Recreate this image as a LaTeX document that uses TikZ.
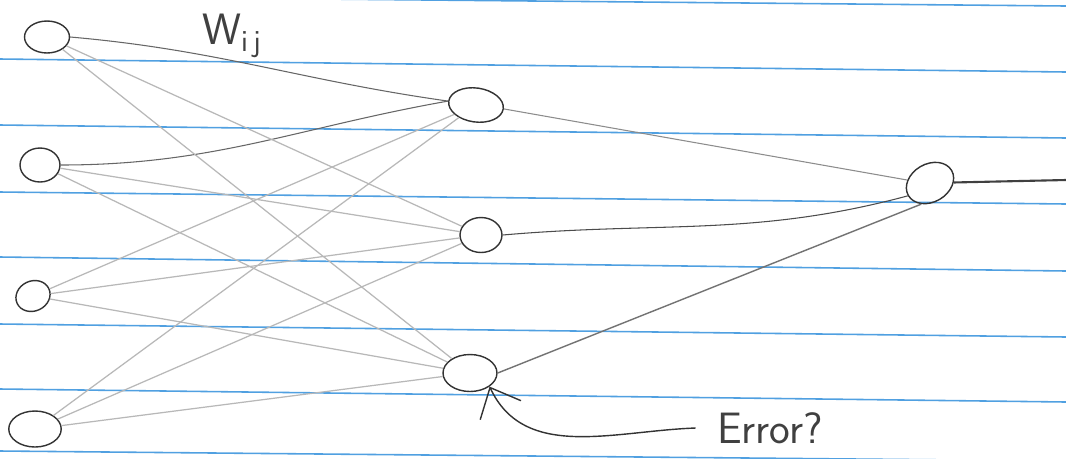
\documentclass[tikz,border=0pt]{standalone}
\usetikzlibrary{arrows.meta,shapes.geometric}

\definecolor{ruleblue}{RGB}{80,160,225}

\begin{document}
\begin{tikzpicture}[
  x=0.02cm, y=-0.02cm,
  font=\sffamily,
  neuron/.style={draw=black!80, thick, ellipse, inner sep=0pt, minimum width=0.85cm, minimum height=0.66cm},
  weight/.style={draw=black!28, line width=0.7pt},
  strong/.style={draw=black!60, semithick},
  paperline/.style={draw=ruleblue, line width=0.9pt},
  errarrow/.style={-{Straight Barb[length=5mm, width=9mm]}, thick, draw=black!80},
  note/.style={font=\sffamily\fontsize{25}{27}\selectfont, text=black!75}
]
\useasboundingbox (0,0) rectangle (1066,458);
\fill[white] (0,0) rectangle (1066,458);

% ruled paper
\foreach \ya/\yb in {-4/6, 59/72, 125/138, 192/204, 257/271, 324/337, 389/402, 451/461}
  \draw[paperline] (0,\ya) -- (1066,\yb);

% input layer
\node[neuron, minimum width=0.9cm, minimum height=0.64cm] (i1) at (47,37) {};
\node[neuron, minimum width=0.8cm, minimum height=0.68cm] (i2) at (40,165) {};
\node[neuron, minimum width=0.7cm, minimum height=0.6cm, rotate=25] (i3) at (33,296) {};
\node[neuron, minimum width=1.05cm, minimum height=0.72cm] (i4) at (35,429) {};

% hidden layer
\node[neuron, minimum width=1.1cm, minimum height=0.68cm, rotate=-8] (h1) at (476,105) {};
\node[neuron, minimum width=0.84cm, minimum height=0.7cm] (h2) at (481,235) {};
\node[neuron, minimum width=1.08cm, minimum height=0.74cm] (h3) at (470,373) {};

% output
\node[neuron, minimum width=1.0cm, minimum height=0.76cm, rotate=30] (out) at (930,183) {};
\coordinate (outend) at (1066,180);

% weights
\draw[strong] (i1.east) to[out=-5, in=172] (h1.west);
\draw[strong] (i2.east) to[out=0, in=190] (h1.west);
\foreach \a/\b in {i1/h2, i1/h3, i2/h2, i2/h3, i3/h1, i3/h2, i3/h3, i4/h1, i4/h2, i4/h3}
  \draw[weight] (\a) -- (\b);

\draw[draw=black!45, semithick] (h1.east) -- (out.north west);
\draw[draw=black!70, semithick] (h2.east) to[out=5, in=195] (out.west);
\draw[draw=black!55, thick] (h3.east) -- (out.south west);
\draw[draw=black!75, very thick] (out) -- (outend);

% labels
\node[note] (wij) at (232,36) {W\textsubscript{i\,j}};
\node[note, inner sep=12pt] (err) at (770,428) {Error?};
\draw[errarrow] (err.west) to[out=182, in=-65] (h3.south east);

\end{tikzpicture}
\end{document}
